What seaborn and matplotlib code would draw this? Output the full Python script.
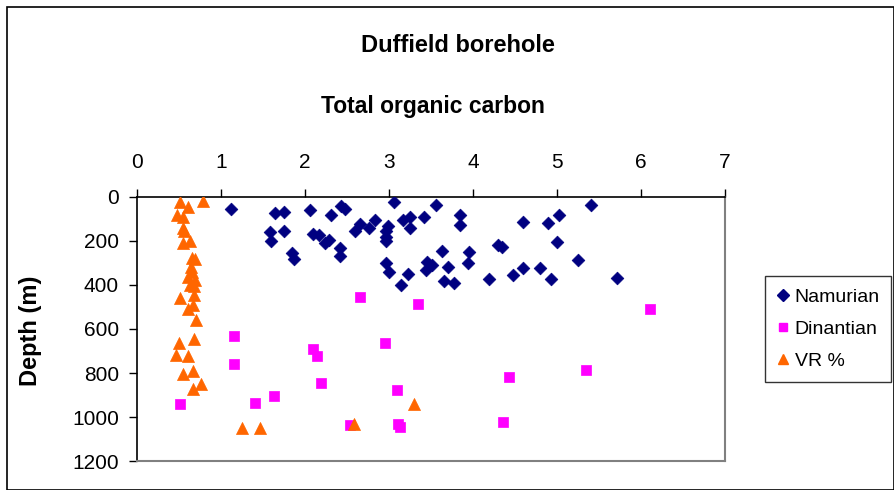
import pandas as pd
import matplotlib.pyplot as plt
import seaborn as sns
from matplotlib.patches import Rectangle
from matplotlib.lines import Line2D

# Namurian TOC (%) and depth (m)
namurian_toc = [1.12, 1.64, 1.75, 2.06, 2.31, 2.43, 2.48, 3.06, 2.83, 2.65, 2.60, 2.76,
                2.99, 2.96, 2.96, 2.97, 3.17, 3.25, 3.25, 3.42, 1.58, 1.60, 1.75, 2.10,
                2.17, 2.24, 2.29, 2.42, 2.42, 1.85, 1.87, 2.96, 3.00, 3.23, 3.14, 3.45,
                3.44, 3.51, 3.56, 3.84, 3.84, 4.59, 4.89, 5.02, 5.41, 5.00, 5.25, 5.72,
                3.63, 3.95, 3.94, 4.30, 4.34, 3.70, 3.66, 3.77, 4.19, 4.48, 4.60, 4.80, 4.93]
namurian_depth = [53, 73, 67, 60, 81, 43, 55, 25, 104, 124, 153, 139,
                  131, 153, 183, 198, 104, 89, 142, 93, 160, 201, 154, 170,
                  175, 210, 195, 233, 269, 256, 284, 299, 340, 348, 398, 295,
                  333, 310, 37, 80, 127, 112, 118, 80, 37, 206, 287, 369,
                  244, 250, 302, 218, 229, 318, 383, 392, 375, 356, 325, 325, 375]

# Dinantian TOC (%) and depth (m)
dinantian_toc = [2.66, 3.35, 6.11, 1.15, 2.95, 2.10, 2.14, 1.15, 5.35, 4.43, 2.19, 3.09,
                 1.63, 1.40, 0.51, 4.36, 3.11, 2.53, 3.13]
dinantian_depth = [455, 485, 507, 632, 662, 691, 722, 757, 787, 818, 845, 876,
                   905, 935, 943, 1024, 1030, 1037, 1045]

# Vitrinite reflectance (%) and depth (m)
vr_value = [0.51, 0.78, 0.61, 0.48, 0.55, 0.55, 0.56, 0.55, 0.63, 0.65, 0.69, 0.64,
            0.65, 0.61, 0.69, 0.63, 0.68, 0.68, 0.51, 0.61, 0.67, 0.70, 0.68, 0.50,
            0.47, 0.61, 0.55, 0.67, 0.76, 0.67, 3.30, 1.25, 1.46, 2.58]
vr_depth = [25, 16, 46, 81, 89, 142, 155, 208, 200, 279, 284, 317,
            340, 363, 378, 401, 406, 447, 458, 508, 493, 561, 645, 665,
            717, 722, 805, 793, 848, 874, 940, 1050, 1050, 1034]

x_ticks = [0, 1, 2, 3, 4, 5, 6, 7]
y_ticks = [0, 200, 400, 600, 800, 1000, 1200]

nam = pd.DataFrame({"toc": namurian_toc, "depth": namurian_depth})
din = pd.DataFrame({"toc": dinantian_toc, "depth": dinantian_depth})
vr = pd.DataFrame({"toc": vr_value, "depth": vr_depth})

sns.set_style("white")
plt.rcParams["font.family"] = ["Liberation Sans", "DejaVu Sans"]
plt.rcParams["text.color"] = "black"
plt.rcParams["axes.labelcolor"] = "black"
plt.rcParams["xtick.color"] = "black"
plt.rcParams["ytick.color"] = "black"

fig = plt.figure(figsize=(8.94, 4.9), dpi=100)
ax = fig.add_axes([137 / 894, 1 - 461 / 490, 588 / 894, 264 / 490])

navy = "#000080"
magenta = "#FF00FF"
orange = "#FF6600"

sns.scatterplot(data=nam, x="toc", y="depth", ax=ax, marker="D", s=42,
                color=navy, edgecolor=navy, linewidth=0.5, zorder=3)
sns.scatterplot(data=din, x="toc", y="depth", ax=ax, marker="s", s=50,
                color=magenta, edgecolor=magenta, linewidth=0.5, zorder=3)
sns.scatterplot(data=vr, x="toc", y="depth", ax=ax, marker="^", s=75,
                color=orange, edgecolor=orange, linewidth=0.5, zorder=3)

ax.set_xlim(0, 7)
ax.set_ylim(1200, 0)
ax.set_xticks(x_ticks)
ax.set_yticks(y_ticks)
ax.xaxis.tick_top()
ax.tick_params(axis="x", top=True, bottom=False, direction="out", length=6,
               width=1, labelsize=15, pad=12)
ax.tick_params(axis="y", left=True, direction="out", length=6, width=1,
               labelsize=15, pad=7)
ax.set_xlabel("")
ax.set_ylabel("")
fig.text(31 / 894, 1 - 331 / 490, "Depth (m)", rotation=90, ha="center",
         va="center", fontsize=17, fontweight="bold")

for side in ["top", "left"]:
    ax.spines[side].set_color("black")
    ax.spines[side].set_linewidth(1.2)
for side in ["right", "bottom"]:
    ax.spines[side].set_color("#808080")
    ax.spines[side].set_linewidth(1.5)

fig.text(458 / 894, 1 - 45 / 490, "Duffield borehole",
         ha="center", va="center", fontsize=17, fontweight="bold")
fig.text(433 / 894, 1 - 107 / 490, "Total organic carbon",
         ha="center", va="center", fontsize=16.5, fontweight="bold")

handles = [
    Line2D([], [], linestyle="none", marker="D", color=navy, markersize=6),
    Line2D([], [], linestyle="none", marker="s", color=magenta, markersize=6),
    Line2D([], [], linestyle="none", marker="^", color=orange, markersize=7),
]
leg = fig.legend(handles, ["Namurian", "Dinantian", "VR %"],
                 loc="center", bbox_to_anchor=(828 / 894, 1 - 329 / 490),
                 fontsize=14, frameon=True, fancybox=False, edgecolor="black",
                 handlelength=0.7, handletextpad=0.25, labelspacing=0.75,
                 borderpad=0.6, borderaxespad=0)
leg.get_frame().set_linewidth(1.0)

fig.patches.append(Rectangle((7 / 894, 0), 1 - 7 / 894, 1 - 7 / 490,
                             transform=fig.transFigure, fill=False,
                             edgecolor="black", linewidth=1.2))

fig.savefig("out.png", dpi=100)
